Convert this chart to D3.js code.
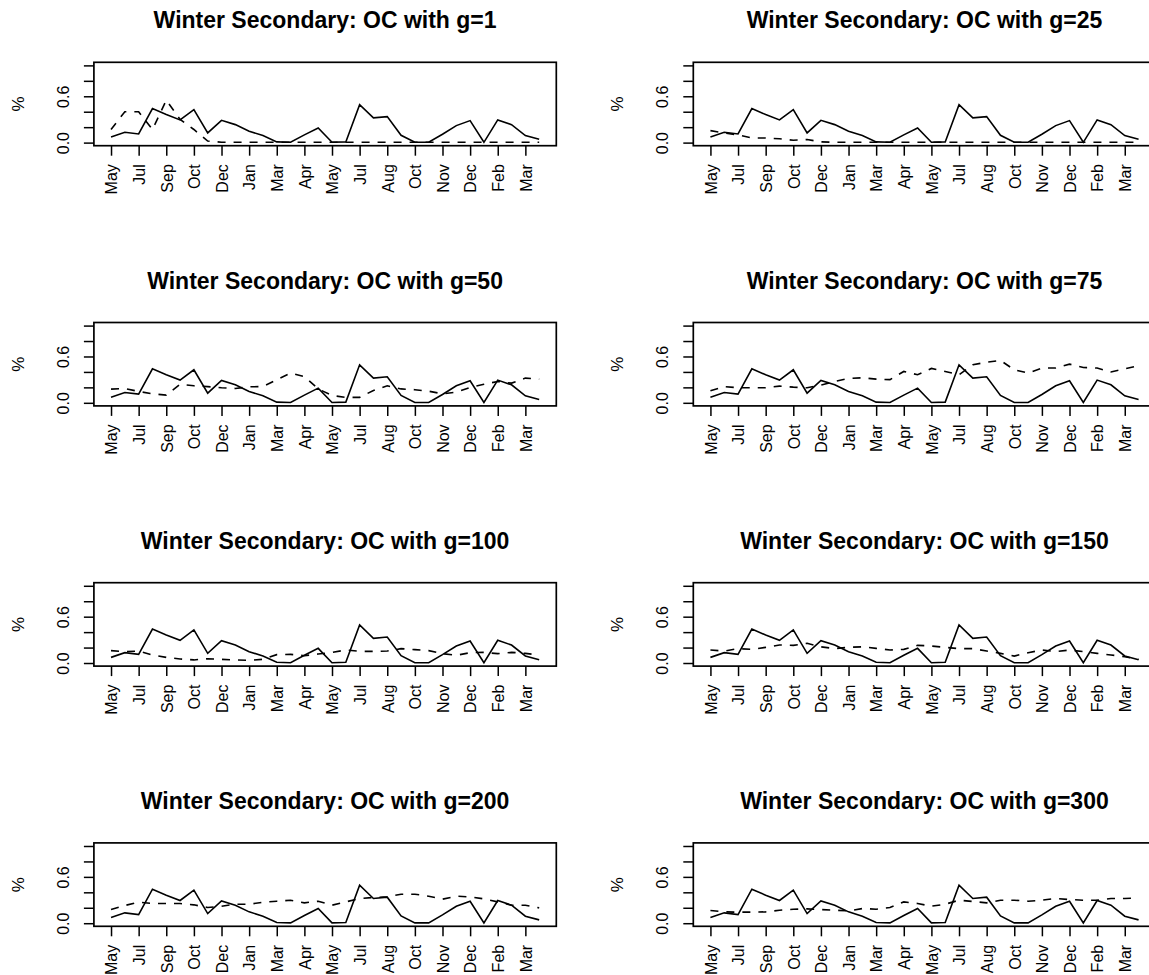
<!DOCTYPE html>
<html>
<head>
<meta charset="utf-8">
<script src="https://cdn.jsdelivr.net/npm/d3@7"></script>
<style>
  body { margin: 0; background: #fff; }
  svg text { font-family: "Liberation Sans", Arial, Helvetica, sans-serif; fill: #000; }
</style>
</head>
<body>
<svg id="chart" width="1149" height="975"></svg>
<script>
// month labels, one on every second observation
const tickMonths = ["May", "Jul", "Sep", "Oct", "Dec", "Jan", "Mar", "Apr",
    "May", "Jul", "Aug", "Oct", "Nov", "Dec", "Feb", "Mar"];
const gValues = [1, 25, 50, 75, 100, 150, 200, 300];
const yTicks = [0, 0.2, 0.4, 0.6, 0.8, 1.0];
const yLabelled = [0, 0.6];

// solid line, same in every panel
const observed = [0.073, 0.134, 0.112, 0.44, 0.363, 0.294, 0.428, 0.125,
    0.289, 0.233, 0.147, 0.091, 0.009, 0.004, 0.10, 0.19,
    0.004, 0.009, 0.492, 0.32, 0.337, 0.095, 0.004, 0.004,
    0.108, 0.22, 0.285, 0.004, 0.294, 0.233, 0.091, 0.043];

// dashed lines, one per g
const fitG1 = [0.17, 0.40, 0.40, 0.17, 0.55, 0.30, 0.17, 0.02,
    0.005, 0.005, 0.005, 0.005, 0.005, 0.005, 0.005, 0.005,
    0.005, 0.005, 0.005, 0.005, 0.005, 0.005, 0.005, 0.005,
    0.005, 0.005, 0.005, 0.005, 0.005, 0.005, 0.005, 0.005];
const fitG25 = [0.155, 0.125, 0.10, 0.06, 0.06, 0.05, 0.03, 0.04,
    0.01, 0.005, 0.005, 0.005, 0.005, 0.005, 0.005, 0.005,
    0.005, 0.005, 0.005, 0.005, 0.005, 0.005, 0.005, 0.005,
    0.005, 0.005, 0.005, 0.005, 0.005, 0.005, 0.005, 0.005];
const fitG50 = [0.177, 0.186, 0.147, 0.117, 0.10, 0.24, 0.22, 0.21,
    0.195, 0.186, 0.207, 0.21, 0.30, 0.385, 0.34, 0.18,
    0.095, 0.07, 0.07, 0.16, 0.22, 0.18, 0.17, 0.15,
    0.117, 0.138, 0.20, 0.24, 0.276, 0.255, 0.32, 0.307];
const fitG75 = [0.155, 0.21, 0.195, 0.195, 0.195, 0.216, 0.203, 0.195,
    0.23, 0.276, 0.315, 0.324, 0.307, 0.30, 0.406, 0.363,
    0.445, 0.406, 0.363, 0.492, 0.527, 0.549, 0.428, 0.385,
    0.45, 0.45, 0.50, 0.458, 0.45, 0.40, 0.44, 0.48];
const fitG100 = [0.16, 0.147, 0.155, 0.104, 0.073, 0.052, 0.04, 0.056,
    0.048, 0.04, 0.035, 0.048, 0.108, 0.112, 0.095, 0.117,
    0.138, 0.168, 0.151, 0.151, 0.155, 0.186, 0.173, 0.16,
    0.121, 0.10, 0.134, 0.138, 0.121, 0.138, 0.125, 0.104];
const fitG150 = [0.168, 0.155, 0.186, 0.177, 0.203, 0.233, 0.229, 0.255,
    0.21, 0.186, 0.203, 0.21, 0.19, 0.168, 0.177, 0.229,
    0.22, 0.203, 0.186, 0.186, 0.155, 0.125, 0.09, 0.134,
    0.168, 0.147, 0.168, 0.147, 0.125, 0.104, 0.082, 0.048];
const fitG200 = [0.177, 0.229, 0.272, 0.255, 0.255, 0.255, 0.238, 0.203,
    0.22, 0.246, 0.246, 0.272, 0.285, 0.298, 0.264, 0.285,
    0.233, 0.276, 0.32, 0.333, 0.341, 0.376, 0.376, 0.35,
    0.311, 0.35, 0.341, 0.315, 0.276, 0.233, 0.233, 0.199];
const fitG300 = [0.164, 0.147, 0.143, 0.143, 0.147, 0.168, 0.181, 0.186,
    0.177, 0.168, 0.16, 0.19, 0.181, 0.203, 0.276, 0.255,
    0.22, 0.246, 0.298, 0.281, 0.264, 0.298, 0.298, 0.285,
    0.298, 0.32, 0.307, 0.298, 0.298, 0.32, 0.32, 0.328];

const fits = [fitG1, fitG25, fitG50, fitG75, fitG100, fitG150, fitG200, fitG300];

const svg = d3.select("#chart");

// panel grid (R style mfrow 4x2, picture is cropped on right and bottom)
const colStep = 599.4, rowStep = 260.2;
const box = {left: 93.9, top: 62.3, width: 462.4, height: 83.4};

const n = observed.length;
const x = d3.scaleLinear()
    .domain([1 - 0.04 * (n - 1), n + 0.04 * (n - 1)])
    .range([0, box.width]);
const y = d3.scaleLinear()
    .domain([-0.04, 1.04])
    .range([box.height, 0]);

const line = d3.line()
    .x((d, i) => x(i + 1))
    .y(d => y(d));

gValues.forEach((g, k) => {
    const col = k % 2, row = Math.floor(k / 2);
    const panel = svg.append("g")
        .attr("transform", `translate(${col * colStep + box.left},${row * rowStep + box.top})`);

    // title
    panel.append("text")
        .attr("x", box.width / 2)
        .attr("y", -34)
        .attr("text-anchor", "middle")
        .style("font-size", "23px")
        .style("font-weight", "bold")
        .text(`Winter Secondary: OC with g=${g}`);

    // y axis
    const yAxis = panel.append("g")
        .call(d3.axisLeft(y)
            .tickValues(yTicks)
            .tickSize(10)
            .tickSizeOuter(0)
            .tickFormat(d => yLabelled.includes(d) ? d3.format(".1f")(d) : ""));
    yAxis.select(".domain").remove();
    yAxis.selectAll("line").attr("stroke", "#000").attr("stroke-width", 1.5);
    yAxis.selectAll("text")
        .attr("transform", "rotate(-90)")
        .attr("x", 0)
        .attr("y", -25)
        .attr("dy", 0)
        .attr("text-anchor", "middle")
        .style("font-size", "16px");

    // x axis
    const xAxis = panel.append("g")
        .attr("transform", `translate(0,${box.height})`)
        .call(d3.axisBottom(x)
            .tickValues(d3.range(1, n + 1, 2))
            .tickSize(10)
            .tickSizeOuter(0)
            .tickFormat((d, i) => tickMonths[i]));
    xAxis.select(".domain").remove();
    xAxis.selectAll("line").attr("stroke", "#000").attr("stroke-width", 1.5);
    xAxis.selectAll("text")
        .attr("transform", "rotate(-90)")
        .attr("x", -18.5)
        .attr("y", 0)
        .attr("dy", "0.36em")
        .attr("text-anchor", "end")
        .style("font-size", "16px");

    // y title
    panel.append("text")
        .attr("transform", `translate(${-box.left + 23.5},${box.height / 2}) rotate(-90)`)
        .attr("text-anchor", "middle")
        .style("font-size", "17px")
        .text("%");

    // lines
    panel.append("path")
        .datum(fits[k])
        .attr("d", line)
        .attr("fill", "none")
        .attr("stroke", "#000")
        .attr("stroke-width", 1.6)
        .attr("stroke-dasharray", "8,8");

    panel.append("path")
        .datum(observed)
        .attr("d", line)
        .attr("fill", "none")
        .attr("stroke", "#000")
        .attr("stroke-width", 1.6);

    // box
    panel.append("rect")
        .attr("width", box.width)
        .attr("height", box.height)
        .attr("fill", "none")
        .attr("stroke", "#000")
        .attr("stroke-width", 1.7);
});
</script>
</body>
</html>
